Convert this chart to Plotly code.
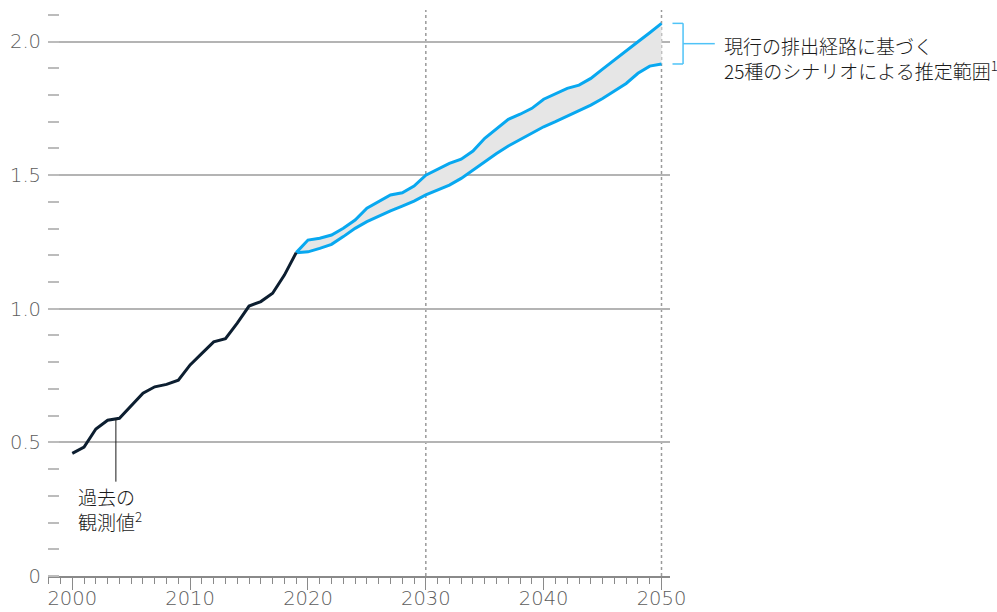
import numpy as np
import plotly.graph_objects as go

# Observed values, 2000-2019
hist_years = list(range(2000, 2020))
hist_values = [0.459, 0.482, 0.550, 0.583, 0.590, 0.639, 0.684, 0.708, 0.717, 0.733,
               0.790, 0.833, 0.876, 0.888, 0.946, 1.010, 1.027, 1.058, 1.126, 1.210]

# Scenario range, 2019-2050
proj_years = list(range(2019, 2051))
proj_upper = [1.210, 1.257, 1.264, 1.276, 1.301, 1.332, 1.376, 1.400, 1.426, 1.434,
              1.459, 1.500, 1.522, 1.544, 1.560, 1.590, 1.638, 1.675, 1.709, 1.728,
              1.750, 1.784, 1.804, 1.825, 1.837, 1.862, 1.897, 1.932, 1.966, 1.999,
              2.033, 2.068]
proj_lower = [1.210, 1.213, 1.226, 1.241, 1.270, 1.301, 1.326, 1.347, 1.366, 1.384,
              1.403, 1.426, 1.444, 1.463, 1.488, 1.520, 1.550, 1.581, 1.609, 1.634,
              1.656, 1.681, 1.700, 1.721, 1.744, 1.762, 1.787, 1.816, 1.843, 1.881,
              1.908, 1.916]

marker_years = [2030, 2050]
y_tick_vals = [0, 0.5, 1.0, 1.5, 2.0]
y_tick_text = ["0", "0.5", "1.0", "1.5", "2.0"]
x_tick_vals = [2000, 2010, 2020, 2030, 2040, 2050]

range_label = "現行の排出経路に基づく<br>25種のシナリオによる推定範囲<sup>1</sup>"
obs_label = "過去の<br>観測値<sup>2</sup>"
obs_pointer_year = 2003.7

BLUE = "#08a8f0"
NAVY = "#0c1e30"
GRID = "#b4b4b4"
AXIS_TXT = "#5c5c5c"
LABEL_FONT = "DejaVu Sans"
CJK_FONT = "Noto Sans CJK JP"
tick_font = dict(family=LABEL_FONT, size=19.5, color=AXIS_TXT, weight=200)

fig = go.Figure()

# shaded band between scenario bounds
fig.add_trace(go.Scatter(x=proj_years, y=proj_lower, mode="lines",
                         line=dict(width=0), hoverinfo="skip", showlegend=False))
fig.add_trace(go.Scatter(x=proj_years, y=proj_upper, mode="lines",
                         line=dict(width=0), fill="tonexty", fillcolor="#e6e6e6",
                         hoverinfo="skip", showlegend=False))
# scenario bounds
for series in (proj_lower, proj_upper):
    fig.add_trace(go.Scatter(x=proj_years, y=series, mode="lines",
                             line=dict(color=BLUE, width=3), showlegend=False))
# observed record
fig.add_trace(go.Scatter(x=hist_years, y=hist_values, mode="lines",
                         line=dict(color=NAVY, width=3), showlegend=False))

# dotted reference years
for yr in marker_years:
    fig.add_shape(type="line", xref="x", yref="paper", x0=yr, x1=yr, y0=0, y1=1,
                  line=dict(color="#9a9a9a", width=1.5, dash="dot"), layer="below")

# bracket for the 2050 spread
top, bot = proj_upper[-1], proj_lower[-1]
mid = (top + bot) / 2
bx0, bx1, lead = 1.004, 1.021, 1.072
bracket_color = "#4fc3f7"
for seg in [(bx0, top, bx1, top), (bx1, top, bx1, bot), (bx0, bot, bx1, bot),
            (bx1, mid, lead, mid)]:
    fig.add_shape(type="line", xref="paper", yref="y",
                  x0=seg[0], y0=seg[1], x1=seg[2], y1=seg[3],
                  line=dict(color=bracket_color, width=1.5))
fig.add_annotation(xref="paper", yref="y", x=1.084, y=mid, xanchor="left",
                   yanchor="top", yshift=14, text=range_label, showarrow=False,
                   align="left", font=dict(family=CJK_FONT, size=19, color="#1a1a1a"))

# pointer to observed record
obs_y = float(np.interp(obs_pointer_year, hist_years, hist_values))
fig.add_shape(type="line", xref="x", yref="y", x0=obs_pointer_year, x1=obs_pointer_year,
              y0=obs_y, y1=0.353, line=dict(color="#1a1a1a", width=1))
fig.add_annotation(xref="x", yref="y", x=2000.3, y=0.353, xanchor="left",
                   yanchor="top", yshift=1, text=obs_label, showarrow=False,
                   align="left", font=dict(family=CJK_FONT, size=19, color="#1a1a1a"))

fig.update_layout(
    width=997, height=612,
    margin=dict(l=48, r=327, t=10, b=36),
    paper_bgcolor="white", plot_bgcolor="white",
    showlegend=False,
    font=tick_font,
    xaxis=dict(
        range=[1997.94, 2050.72],
        automargin=False,
        tickvals=x_tick_vals,
        ticks="outside", ticklen=12, tickwidth=1.2, tickcolor="#8a8a8a",
        ticklabelstandoff=-8,
        minor=dict(dtick=1, tick0=2000, ticks="outside", ticklen=6,
                   tickwidth=1, tickcolor="#8a8a8a", showgrid=False),
        showgrid=False, zeroline=False,
        showline=True, linecolor="#8a8a8a", linewidth=1.5,
        tickfont=tick_font,
    ),
    yaxis=dict(
        range=[0, 2.118],
        automargin=False,
        tickvals=y_tick_vals, ticktext=y_tick_text,
        ticks="", showgrid=True, gridcolor=GRID, gridwidth=1.5,
        zeroline=False, showline=False, ticklabelstandoff=6,
        minor=dict(dtick=0.1, tick0=0, ticks="inside", ticklen=11,
                   tickwidth=1.5, tickcolor="#bcbcbc", showgrid=False),
        tickfont=tick_font,
    ),
)

fig.write_html("out.html")
